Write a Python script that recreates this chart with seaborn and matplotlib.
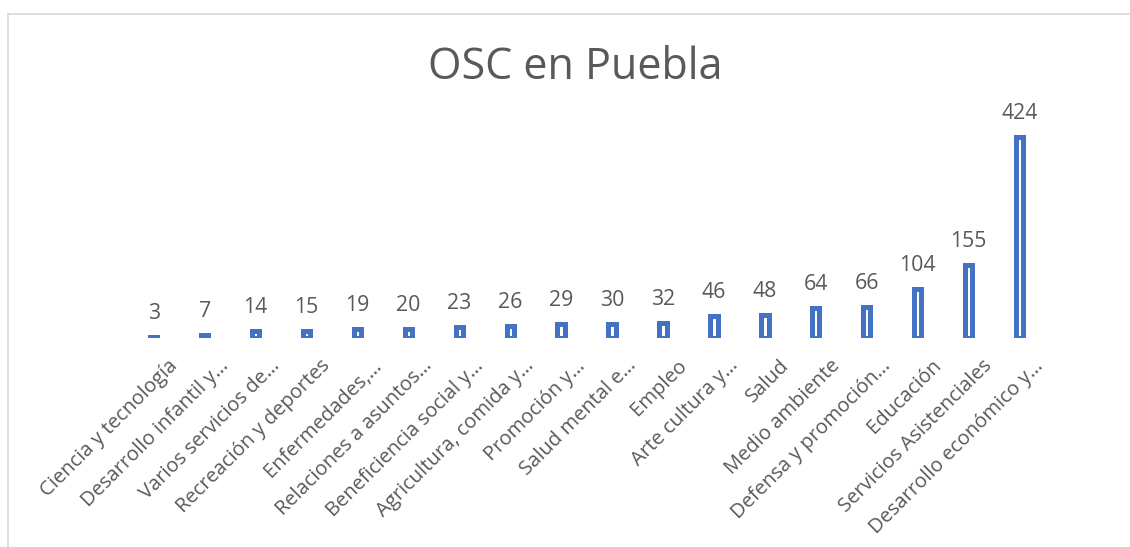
import matplotlib
matplotlib.use("Agg")
import matplotlib.pyplot as plt
import matplotlib.transforms as mtransforms
from matplotlib.patches import Rectangle
import seaborn as sns
import pandas as pd

categories = [
    "Ciencia y tecnología", "Desarrollo infantil y…", "Varios servicios de…",
    "Recreación y deportes", "Enfermedades,…", "Relaciones a asuntos…",
    "Beneficiencia social y…", "Agricultura, comida y…", "Promoción y…",
    "Salud mental e…", "Empleo", "Arte cultura y…", "Salud", "Medio ambiente",
    "Defensa y promoción…", "Educación", "Servicios Asistenciales",
    "Desarrollo económico y…",
]
values = [3, 7, 14, 15, 19, 20, 23, 26, 29, 30, 32, 46, 48, 64, 66, 104, 155, 424]
title = "OSC en Puebla"

df = pd.DataFrame({"cat": categories, "val": values})

sns.set_theme(style="white")
plt.rcParams["font.family"] = ["Open Sans", "DejaVu Sans"]

W, H = 1130, 547
fig = plt.figure(figsize=(W / 100, H / 100), dpi=100)
fig.patch.set_facecolor("white")
fig.patches.append(Rectangle((7.5 / W, -0.1), 1.2, 1.1 - 13.5 / H, transform=fig.transFigure,
                             fill=False, edgecolor="#D9D9D9", linewidth=1.2))

n = len(categories)
step = 50.93
ax = fig.add_axes([(153.7 - step / 2) / W, 1 - 338 / H, step * n / W, 212.8 / H])
blue = "#4472C4"
gray = "#595959"
sns.barplot(data=df, x="cat", y="val", ax=ax, color="white", edgecolor=blue,
            linewidth=3.6, width=0.145, saturation=1)
ax.set_xlim(-0.5, n - 0.5)
ax.set_ylim(0, 450)
ax.set_facecolor("none")
for s in ax.spines.values():
    s.set_visible(False)
ax.set_yticks([])
ax.set_xlabel("")
ax.set_ylabel("")
ax.tick_params(axis="x", length=0, pad=0)

off = mtransforms.ScaledTranslation(21 / 100, -25 / 100, fig.dpi_scale_trans)
ax.set_xticks(range(n))
ax.set_xticklabels(categories, rotation=45, ha="right", va="center",
                   rotation_mode="anchor", fontsize=14.5, color=gray)
for lab in ax.get_xticklabels():
    lab.set_transform(lab.get_transform() + off)

for i, v in enumerate(values):
    ax.annotate(str(v), (i, v), xytext=(0, 13), textcoords="offset pixels",
                ha="center", va="bottom", fontsize=15.3, color=gray)

fig.text(575 / W, 1 - 68 / H, title, ha="center", va="center", fontsize=31, color=gray)

fig.savefig("out.png", dpi=100)
